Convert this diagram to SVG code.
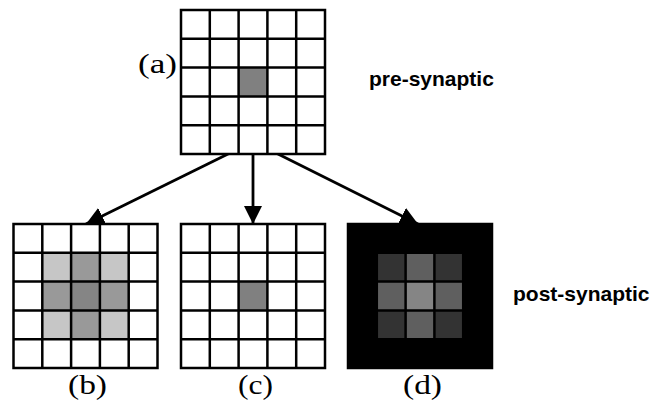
<svg xmlns="http://www.w3.org/2000/svg" width="669" height="403" viewBox="0 0 669 403">
<defs>
<style>
.g{fill:none;stroke:#000;stroke-width:2.5}
.w{fill:#fff}
.lbl{font-family:"Liberation Serif","Times New Roman",serif;font-size:28px;fill:#000}
.side{font-family:"Liberation Sans",Arial,sans-serif;font-size:21px;font-weight:bold;fill:#000}
.conn{stroke:#000;stroke-width:2.8;fill:none}
</style>
<marker id="ah" markerUnits="userSpaceOnUse" markerWidth="18" markerHeight="18" viewBox="0 0 16 16" refX="16" refY="8" orient="auto">
<path d="M0,0 L16,8 L0,16 Z" fill="#000"/>
</marker>
<path id="grid" class="g" d="M0,0H144V144H0Z M28.8,0V144 M57.6,0V144 M86.4,0V144 M115.2,0V144 M0,28.8H144 M0,57.6H144 M0,86.4H144 M0,115.2H144"/>
</defs>
<rect width="669" height="403" fill="#fff"/>
<g id="connectors">
<line class="conn" x1="230" y1="153" x2="86" y2="224" marker-end="url(#ah)"/>
<line class="conn" x1="253" y1="154" x2="253" y2="224" marker-end="url(#ah)"/>
<line class="conn" x1="276" y1="153" x2="418" y2="224" marker-end="url(#ah)"/>
</g>
<g id="node-a">
<g transform="translate(181,10)">
<rect class="w" width="144" height="144"/>
<rect x="57.6" y="57.6" width="28.8" height="28.8" fill="#808080"/>
<use href="#grid"/>
</g>
<text class="lbl" x="138" y="73" textLength="39" lengthAdjust="spacingAndGlyphs">(a)</text>
</g>
<g id="node-b">
<g transform="translate(13.5,224)">
<rect class="w" width="144" height="144"/>
<rect x="28.8" y="28.8" width="28.8" height="28.8" fill="#c6c6c6"/>
<rect x="86.4" y="28.8" width="28.8" height="28.8" fill="#c6c6c6"/>
<rect x="28.8" y="86.4" width="28.8" height="28.8" fill="#c6c6c6"/>
<rect x="86.4" y="86.4" width="28.8" height="28.8" fill="#c6c6c6"/>
<rect x="57.6" y="28.8" width="28.8" height="28.8" fill="#999"/>
<rect x="28.8" y="57.6" width="28.8" height="28.8" fill="#999"/>
<rect x="86.4" y="57.6" width="28.8" height="28.8" fill="#999"/>
<rect x="57.6" y="86.4" width="28.8" height="28.8" fill="#999"/>
<rect x="57.6" y="57.6" width="28.8" height="28.8" fill="#858585"/>
<use href="#grid"/>
</g>
<text class="lbl" x="68" y="394" textLength="39" lengthAdjust="spacingAndGlyphs">(b)</text>
</g>
<g id="node-c">
<g transform="translate(181,224)">
<rect class="w" width="144" height="144"/>
<rect x="57.6" y="57.6" width="28.8" height="28.8" fill="#808080"/>
<use href="#grid"/>
</g>
<text class="lbl" x="238" y="394" textLength="35" lengthAdjust="spacingAndGlyphs">(c)</text>
</g>
<g id="node-d">
<g transform="translate(348,224)">
<rect width="144" height="144" fill="#000"/>
<rect x="28.8" y="28.8" width="28.8" height="28.8" fill="#333"/>
<rect x="86.4" y="28.8" width="28.8" height="28.8" fill="#333"/>
<rect x="28.8" y="86.4" width="28.8" height="28.8" fill="#333"/>
<rect x="86.4" y="86.4" width="28.8" height="28.8" fill="#333"/>
<rect x="57.6" y="28.8" width="28.8" height="28.8" fill="#5f5f5f"/>
<rect x="28.8" y="57.6" width="28.8" height="28.8" fill="#5f5f5f"/>
<rect x="86.4" y="57.6" width="28.8" height="28.8" fill="#5f5f5f"/>
<rect x="57.6" y="86.4" width="28.8" height="28.8" fill="#5f5f5f"/>
<rect x="57.6" y="57.6" width="28.8" height="28.8" fill="#858585"/>
<use href="#grid"/>
</g>
<text class="lbl" x="403" y="394" textLength="39" lengthAdjust="spacingAndGlyphs">(d)</text>
</g>
<g id="label-pre">
<text class="side" x="369" y="86">pre-synaptic</text>
</g>
<g id="label-post">
<text class="side" x="513" y="301">post-synaptic</text>
</g>
</svg>
